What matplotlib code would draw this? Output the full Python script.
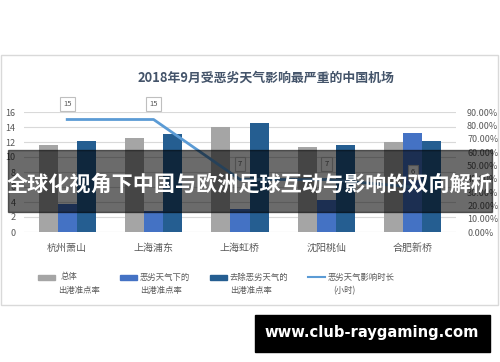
import matplotlib.pyplot as plt
from matplotlib.patches import Rectangle
from matplotlib.lines import Line2D
import numpy as np

plt.rcParams['font.family'] = ['Noto Sans CJK SC', 'DejaVu Sans']

airports = ["杭州萧山", "上海浦东", "上海虹桥", "沈阳桃仙", "合肥新桥"]
overall_rate = [65.5, 70.5, 79.0, 63.5, 67.5]      # 总体出港准点率 (%)
bad_weather_rate = [21.0, 15.5, 17.5, 24.0, 74.5]  # 恶劣天气下的出港准点率 (%)
no_weather_rate = [68.0, 73.5, 81.5, 65.5, 68.0]   # 去除恶劣天气的出港准点率 (%)
hours = [15, 15, 7, 7, 6]                          # 恶劣天气影响时长 (小时)

left_ticks = list(range(0, 17, 2))
right_ticks = list(range(0, 91, 10))

c_gray = "#a5a5a5"
c_mid = "#4472c4"
c_dark = "#255e91"
c_line = "#5b9bd5"
c_text = "#595959"

fig = plt.figure(figsize=(5, 3.62), dpi=100)
fig.patch.set_facecolor("white")

# chart frame
fig.patches.append(Rectangle((0.002, 1 - 305 / 362), 0.994, 250 / 362,
                             transform=fig.transFigure, fill=False,
                             edgecolor="#d9d9d9", linewidth=1))

ax = fig.add_axes([24 / 500, 1 - 232 / 362, 432 / 500, 120 / 362])
axr = ax.twinx()
ax.set_zorder(axr.get_zorder() + 1)
ax.patch.set_visible(False)

x = np.arange(len(airports))
w = 0.22
axr.bar(x - w, overall_rate, w, color=c_gray)
axr.bar(x, bad_weather_rate, w, color=c_mid)
axr.bar(x + w, no_weather_rate, w, color=c_dark)
axr.set_ylim(0, 90)
axr.set_yticks(right_ticks)
axr.set_yticklabels([f"{v:.2f}%" for v in right_ticks])

ax.plot(x, hours, color=c_line, linewidth=2)
for xi, h in zip(x, hours):
    ax.annotate(str(h), (xi, h), xytext=(0, 11), textcoords="offset points",
                ha="center", va="center", fontsize=5.5, color=c_text,
                bbox=dict(boxstyle="square,pad=0.4", fc="white", ec="#bfbfbf", lw=0.8))
ax.set_ylim(0, 16)
ax.set_yticks(left_ticks)
ax.set_xlim(-0.5, len(airports) - 0.5)
ax.set_xticks(x)
ax.set_xticklabels(airports)

# gridlines drawn on bar axis so they sit behind bars
for v in left_ticks:
    axr.axhline(v * 90 / 16, color="#d9d9d9" if v else "#bfbfbf", linewidth=0.8, zorder=0)

for a in (ax, axr):
    for s in a.spines.values():
        s.set_visible(False)
    a.tick_params(length=0, labelsize=6.5, labelcolor=c_text)
ax.tick_params(axis="x", labelsize=7.2, pad=8)
ax.tick_params(axis="y", pad=6)
axr.tick_params(axis="y", pad=8)

fig.text(266 / 500, 1 - 78 / 362, "2018年9月受恶劣天气影响最严重的中国机场",
         ha="center", va="center", fontsize=9.3, fontweight="bold", color="#44546a")

# legend
items = [("patch", c_gray, 38, "总体", "出港准点率", 61, 58),
         ("patch", c_mid, 120, "恶劣天气下的", "出港准点率", 140, 140),
         ("patch", c_dark, 210, "去除恶劣天气的", "出港准点率", 230, 230),
         ("line", c_line, 308, "恶劣天气影响时长", "(小时)", 328, 333)]
for kind, col, hx, l1, l2, tx1, tx2 in items:
    yy = 1 - 277 / 362
    if kind == "patch":
        fig.patches.append(Rectangle((hx / 500, yy - 2.5 / 362), 17 / 500, 5 / 362,
                                     transform=fig.transFigure, color=col))
    else:
        fig.lines.append(Line2D([hx / 500, (hx + 17) / 500], [yy, yy],
                                transform=fig.transFigure, color=col, linewidth=1.5))
    fig.text(tx1 / 500, yy, l1, ha="left", va="center", fontsize=6, color=c_text)
    fig.text(tx2 / 500, 1 - 291 / 362, l2, ha="left", va="center", fontsize=6, color=c_text)

# overlay banner
fig.patches.append(Rectangle((8 / 500, 1 - 212 / 362), 484 / 500, 62 / 362,
                             transform=fig.transFigure, color="black", alpha=0.58, zorder=10))
fig.text(250 / 500, 1 - 184 / 362, "全球化视角下中国与欧洲足球互动与影响的双向解析",
         ha="center", va="center", fontsize=15.2, fontweight="bold", color="white", zorder=11)

# watermark
fig.patches.append(Rectangle((255 / 500, 1 - 352 / 362), 235 / 500, 37 / 362,
                             transform=fig.transFigure, color="black", zorder=10))
fig.text(372 / 500, 1 - 333 / 362, "www.club-raygaming.com", ha="center", va="center",
         fontsize=10.6, fontweight="bold", color="white", family="DejaVu Sans", zorder=11)

fig.savefig("out.png", dpi=100)
